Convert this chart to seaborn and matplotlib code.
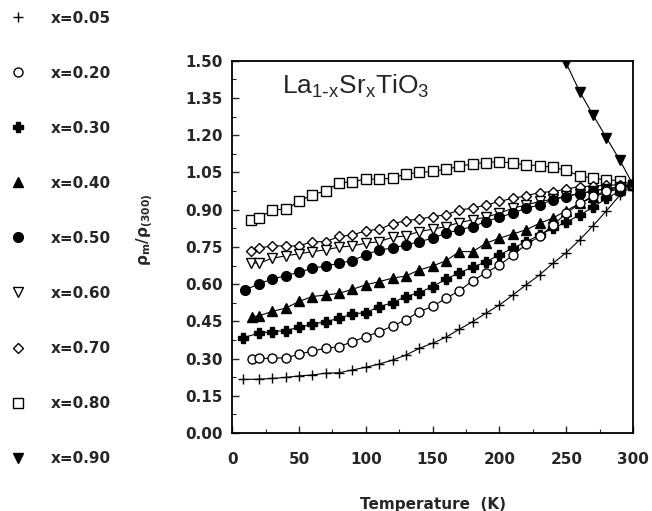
import numpy as np
import pandas as pd
import seaborn as sns
import matplotlib.pyplot as plt
from matplotlib.lines import Line2D
from matplotlib.ticker import MultipleLocator, AutoMinorLocator, FormatStrFormatter

# temperatures shared by most curves (K)
temp = [20, 30, 40, 50, 60, 70, 80, 90, 100, 110, 120, 130, 140, 150, 160,
        170, 180, 190, 200, 210, 220, 230, 240, 250, 260, 270, 280, 290, 300]

# rho(T)/rho(300K)
rho_005 = [0.217, 0.220, 0.224, 0.230, 0.234, 0.241, 0.243, 0.254, 0.265, 0.278,
           0.294, 0.314, 0.341, 0.362, 0.386, 0.418, 0.449, 0.483, 0.516, 0.556,
           0.597, 0.637, 0.684, 0.727, 0.778, 0.835, 0.895, 0.958, 1.000]
rho_020 = [0.301, 0.301, 0.303, 0.317, 0.331, 0.341, 0.348, 0.368, 0.388, 0.408,
           0.431, 0.456, 0.489, 0.510, 0.543, 0.573, 0.614, 0.646, 0.677, 0.716,
           0.760, 0.792, 0.838, 0.885, 0.925, 0.955, 0.975, 0.990, 1.000]
rho_030 = [0.402, 0.409, 0.413, 0.426, 0.438, 0.449, 0.462, 0.480, 0.485, 0.509,
           0.525, 0.550, 0.566, 0.590, 0.620, 0.646, 0.668, 0.690, 0.718, 0.745,
           0.771, 0.798, 0.825, 0.850, 0.878, 0.910, 0.945, 0.975, 1.000]
rho_040 = [0.472, 0.490, 0.503, 0.530, 0.550, 0.556, 0.563, 0.579, 0.597, 0.610,
           0.624, 0.633, 0.657, 0.673, 0.694, 0.731, 0.731, 0.765, 0.785, 0.802,
           0.819, 0.845, 0.866, 0.896, 0.925, 0.950, 0.970, 0.985, 1.000]
rho_050 = [0.601, 0.620, 0.634, 0.648, 0.664, 0.673, 0.684, 0.695, 0.718, 0.738,
           0.745, 0.758, 0.771, 0.785, 0.805, 0.819, 0.832, 0.852, 0.870, 0.886,
           0.906, 0.919, 0.940, 0.953, 0.965, 0.975, 0.985, 0.990, 1.000]
rho_060 = [0.684, 0.704, 0.714, 0.722, 0.731, 0.738, 0.749, 0.754, 0.765, 0.771,
           0.789, 0.794, 0.812, 0.821, 0.832, 0.848, 0.859, 0.870, 0.886, 0.906,
           0.919, 0.933, 0.942, 0.955, 0.965, 0.975, 0.985, 0.990, 1.000]
rho_070 = [0.745, 0.754, 0.754, 0.754, 0.771, 0.771, 0.792, 0.798, 0.815, 0.821,
           0.843, 0.856, 0.862, 0.872, 0.879, 0.899, 0.906, 0.919, 0.933, 0.946,
           0.956, 0.969, 0.973, 0.983, 0.993, 0.995, 0.998, 1.000, 1.000]
rho_080 = [0.866, 0.899, 0.902, 0.933, 0.960, 0.976, 1.007, 1.013, 1.023, 1.023,
           1.027, 1.044, 1.050, 1.054, 1.063, 1.074, 1.085, 1.090, 1.094, 1.087,
           1.081, 1.077, 1.071, 1.058, 1.036, 1.027, 1.020, 1.017, 1.000]

# first (low temperature) point of each curve
first_t = {'0.05': 8, '0.20': 15, '0.30': 8, '0.40': 15, '0.50': 10,
           '0.60': 14, '0.70': 14, '0.80': 14}
first_rho = {'0.05': 0.216, '0.20': 0.297, '0.30': 0.384, '0.40': 0.469,
             '0.50': 0.577, '0.60': 0.687, '0.70': 0.735, '0.80': 0.859}

temp_090 = [250, 260, 270, 280, 290, 300]
rho_090 = [1.490, 1.376, 1.282, 1.190, 1.100, 1.000]

series = {'0.05': rho_005, '0.20': rho_020, '0.30': rho_030, '0.40': rho_040,
          '0.50': rho_050, '0.60': rho_060, '0.70': rho_070, '0.80': rho_080}

# marker style per composition: (marker, facecolor, size)
styles = {'0.05': ('+', 'black', 7.5),
          '0.20': ('o', 'white', 6.5),
          '0.30': ('P', 'black', 7),
          '0.40': ('^', 'black', 6.5),
          '0.50': ('o', 'black', 7),
          '0.60': ('v', 'white', 6.5),
          '0.70': ('D', 'white', 5),
          '0.80': ('s', 'white', 6.5),
          '0.90': ('v', 'black', 6.5)}

rows = []
for x, vals in series.items():
    rows.append((x, first_t[x], first_rho[x]))
    rows += [(x, t, v) for t, v in zip(temp, vals)]
rows += [('0.90', t, v) for t, v in zip(temp_090, rho_090)]
df = pd.DataFrame(rows, columns=['x', 'T', 'rho'])

sns.set_style('ticks')
plt.rcParams['font.family'] = ['DejaVu Sans']

fig = plt.figure(figsize=(6.52, 5.11), dpi=100)
ax = fig.add_axes([0.356, 0.1526, 0.615, 0.7285])

for x in ['0.80', '0.70', '0.60', '0.50', '0.40', '0.30', '0.20', '0.05', '0.90']:
    m, fc, ms = styles[x]
    sub = df[df['x'] == x]
    sns.lineplot(data=sub, x='T', y='rho', ax=ax, color='black', linewidth=0.8,
                 marker=m, markersize=ms, markerfacecolor=fc,
                 markeredgecolor='black', markeredgewidth=1.0, legend=False)

ax.set_xlim(0, 300)
ax.set_ylim(0, 1.5)
ax.xaxis.set_major_locator(MultipleLocator(50))
ax.xaxis.set_minor_locator(AutoMinorLocator(2))
ax.yaxis.set_major_locator(MultipleLocator(0.15))
ax.yaxis.set_minor_locator(AutoMinorLocator(2))
ax.yaxis.set_major_formatter(FormatStrFormatter('%.2f'))
ax.tick_params(which='major', direction='in', length=5, width=1, labelsize=11)
ax.tick_params(axis='x', which='major', pad=14)
ax.tick_params(axis='y', which='major', pad=7)
ax.tick_params(which='minor', direction='in', length=3, width=0.8)
for lab in ax.get_xticklabels() + ax.get_yticklabels():
    lab.set_fontweight('bold')
for sp in ax.spines.values():
    sp.set_linewidth(1.3)
    sp.set_color('black')

ax.set_xlabel('Temperature  (K)', fontsize=11, fontweight='bold')
ax.xaxis.set_label_coords(0.5, -0.172)
ax.set_ylabel(r'ρ$_\mathregular{m}$/ρ$_\mathregular{(300)}$', fontsize=11,
              fontweight='bold')
ax.yaxis.set_label_coords(-0.19, 0.546)

ax.text(0.125, 0.911, r'La$_\mathregular{1\text{-}x}$Sr$_\mathregular{x}$TiO$_\mathregular{3}$',
        transform=ax.transAxes, fontsize=19, family='Liberation Sans',
        va='baseline', ha='left')

handles = []
labels = []
for x in ['0.05', '0.20', '0.30', '0.40', '0.50', '0.60', '0.70', '0.80', '0.90']:
    m, fc, ms = styles[x]
    handles.append(Line2D([], [], linestyle='None', marker=m, markersize=ms,
                          markerfacecolor=fc, markeredgecolor='black',
                          markeredgewidth=1.0))
    labels.append('x=' + x)
fig.legend(handles, labels, loc='upper left', bbox_to_anchor=(0.0, 1.0),
           frameon=False, prop={'weight': 'bold', 'size': 11},
           labelspacing=2.62, handlelength=1.0, handletextpad=1.6,
           borderaxespad=0.3)

fig.savefig('out.png', dpi=100)
